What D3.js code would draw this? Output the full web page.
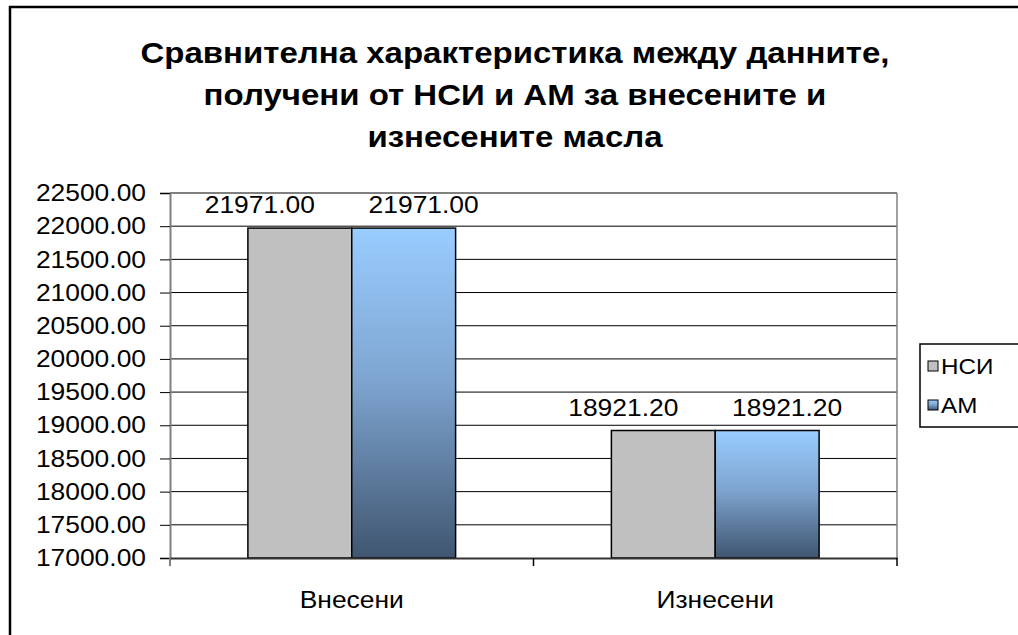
<!DOCTYPE html>
<html lang="bg">
<head>
<meta charset="utf-8">
<title>Сравнителна характеристика</title>
<style>
  body { margin: 0; background: #fff; }
  text { font-family: "Liberation Sans", Arial, sans-serif; fill: #000; }
</style>
</head>
<body>
<div id="chart"></div>
<script src="https://d3js.org/d3.v7.min.js"></script>
<script>
var categories = ["Внесени", "Изнесени"];
var seriesNames = ["НСИ", "АМ"];
var nsiValues = [21971.00, 18921.20];
var amValues = [21971.00, 18921.20];
var yTicks = [17000, 17500, 18000, 18500, 19000, 19500, 20000, 20500, 21000, 21500, 22000, 22500];
var titleLines = ["Сравнителна характеристика между данните,",
                  "получени от НСИ и АМ за внесените и",
                  "изнесените масла"];

var width = 1018, height = 635, stretch = 1.1;
var plot = {left: 170, top: 193, right: 897, bottom: 558};

var svg = d3.select("#chart").append("svg")
    .attr("width", width)
    .attr("height", height);

var defs = svg.append("defs");
var grad = defs.append("linearGradient")
    .attr("id", "amGrad")
    .attr("x1", 0).attr("y1", 0).attr("x2", 0).attr("y2", 1);
grad.append("stop").attr("offset", "0%").attr("stop-color", "#99ccff");
grad.append("stop").attr("offset", "45%").attr("stop-color", "#7fa6d2");
grad.append("stop").attr("offset", "100%").attr("stop-color", "#405670");

// chart area border
svg.append("rect")
    .attr("x", 10).attr("y", 7)
    .attr("width", width + 20).attr("height", height + 20)
    .attr("fill", "#fff")
    .attr("stroke", "#000")
    .attr("stroke-width", 2.5);

var x0 = d3.scaleBand().domain(categories).range([plot.left, plot.right]);
var gap = x0.bandwidth() / 3.5 * 0.75;
var x1 = d3.scaleBand().domain(seriesNames)
    .range([gap, x0.bandwidth() - gap]);
var y = d3.scaleLinear().domain([17000, 22500]).range([plot.bottom, plot.top]);

// gridlines
svg.append("g")
  .selectAll("line")
  .data(yTicks.slice(1))
  .join("line")
    .attr("x1", plot.left).attr("x2", plot.right)
    .attr("y1", function(d) { return y(d); })
    .attr("y2", function(d) { return y(d); })
    .attr("stroke", function(d) { return d === 22500 ? "#808080" : "#000"; })
    .attr("stroke-width", function(d) { return d === 22500 ? 2 : 1; });

// plot area right border
svg.append("line")
    .attr("x1", plot.right).attr("x2", plot.right)
    .attr("y1", plot.top).attr("y2", plot.bottom)
    .attr("stroke", "#808080").attr("stroke-width", 1.5);

// bars
var rows = categories.map(function(c, i) {
  return {cat: c, vals: [
    {s: seriesNames[0], v: nsiValues[i]},
    {s: seriesNames[1], v: amValues[i]}
  ]};
});

var groups = svg.append("g").selectAll("g")
  .data(rows)
  .join("g")
    .attr("transform", function(d) { return "translate(" + x0(d.cat) + ",0)"; });

groups.selectAll("rect")
  .data(function(d) { return d.vals; })
  .join("rect")
    .attr("x", function(d) { return x1(d.s); })
    .attr("y", function(d) { return y(d.v); })
    .attr("width", x1.bandwidth())
    .attr("height", function(d) { return y(17000) - y(d.v); })
    .attr("fill", function(d, i) { return i === 0 ? "#c0c0c0" : "url(#amGrad)"; })
    .attr("stroke", "#000")
    .attr("stroke-width", 1.5);

var labelShift = [-40, 20];
groups.selectAll("text.val")
  .data(function(d) { return d.vals; })
  .join("text")
    .attr("class", "val")
    .attr("x", function(d, i) { return x1(d.s) + x1.bandwidth() / 2 + labelShift[i]; })
    .attr("y", function(d) { return y(d.v) - 15; })
    .attr("text-anchor", "middle")
    .style("font-size", "24px")
    .text(function(d) { return d.v.toFixed(2); });

// y axis
var yAxis = svg.append("g")
    .attr("transform", "translate(" + plot.left + ",0)")
    .call(d3.axisLeft(y).tickValues(yTicks).tickSize(10).tickPadding(14)
      .tickFormat(function(d) { return d.toFixed(2); }));
yAxis.select(".domain").attr("stroke", "#808080").attr("stroke-width", 2);
yAxis.selectAll(".tick line").attr("stroke", "#000");
yAxis.selectAll("text").style("font-size", "24px")
    .attr("font-family", null).attr("fill", "#000");
yAxis.append("line")
    .attr("x1", 0).attr("x2", 0)
    .attr("y1", plot.bottom).attr("y2", plot.bottom + 8)
    .attr("stroke", "#808080").attr("stroke-width", 2);

// x axis
var xAxis = svg.append("g")
    .attr("transform", "translate(0," + plot.bottom + ")")
    .call(d3.axisBottom(x0).tickSize(0).tickPadding(33));
xAxis.select(".domain").attr("stroke", "#333").attr("stroke-width", 2);
xAxis.selectAll("text").style("font-size", "24px")
    .attr("font-family", null).attr("fill", "#000");
xAxis.selectAll("line.sep")
  .data([x0(categories[1]), plot.right])
  .join("line")
    .attr("class", "sep")
    .attr("x1", function(d) { return d; }).attr("x2", function(d) { return d; })
    .attr("y1", 0).attr("y2", 8)
    .attr("stroke", "#000").attr("stroke-width", 1.5);

// title
svg.append("g").selectAll("text")
  .data(titleLines)
  .join("text")
    .attr("x", 515)
    .attr("y", function(d, i) { return 63 + i * 42; })
    .attr("text-anchor", "middle")
    .style("font-size", "30px")
    .style("font-weight", "bold")
    .text(function(d) { return d; });

// legend
var legend = svg.append("g");
legend.append("rect")
    .attr("x", 920).attr("y", 344)
    .attr("width", 100).attr("height", 83)
    .attr("fill", "#fff").attr("stroke", "#000").attr("stroke-width", 1.5);
var items = legend.selectAll("g.item")
  .data(seriesNames)
  .join("g")
    .attr("class", "item")
    .attr("transform", function(d, i) { return "translate(928," + (366 + i * 39) + ")"; });
items.append("rect")
    .attr("x", 0).attr("y", -5)
    .attr("width", 10).attr("height", 10)
    .attr("fill", function(d, i) { return i === 0 ? "#c0c0c0" : "url(#amGrad)"; })
    .attr("stroke", "#000").attr("stroke-width", 1);
items.append("text")
    .attr("x", 13).attr("y", 8)
    .style("font-size", "22px")
    .text(function(d) { return d; });

// stretch text horizontally like the original rendering
svg.selectAll("text").each(function() {
  var len = this.getComputedTextLength();
  d3.select(this).attr("textLength", len * stretch).attr("lengthAdjust", "spacingAndGlyphs");
});
</script>
</body>
</html>
